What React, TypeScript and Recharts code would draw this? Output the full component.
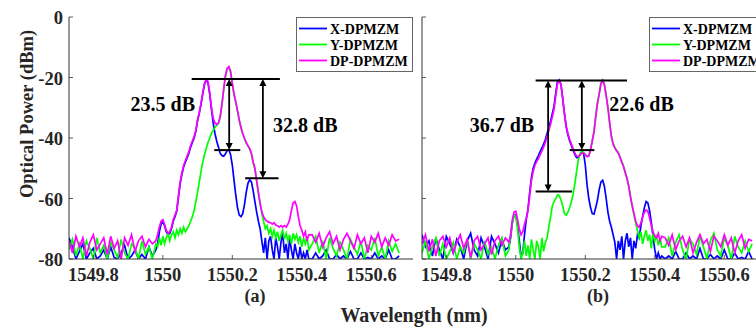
import React from 'react'
import { LineChart, Line, XAxis, YAxis, ReferenceLine, ReferenceDot } from 'recharts'

const FONT = "'Liberation Serif', 'Times New Roman', serif"
const AXIS = '#333333'
const BLUE = '#0000ff'
const GREEN = '#00ff00'
const MAGENTA = '#ff00ff'

// wavelength grid (nm): 0.01 steps in the noise floor, 0.005 steps around the carriers
const wavelength = [
    1549.73, 1549.74, 1549.75, 1549.76, 1549.77, 1549.78, 1549.79, 1549.8, 1549.81, 1549.82, 1549.83, 1549.84, 1549.85,
    1549.86, 1549.87, 1549.88, 1549.89, 1549.9, 1549.91, 1549.92, 1549.93, 1549.94, 1549.95, 1549.96, 1549.97, 1549.98,
    1549.985, 1549.99, 1549.995, 1550, 1550.005, 1550.01, 1550.015, 1550.02, 1550.025, 1550.03,
    1550.035, 1550.04, 1550.045, 1550.05, 1550.055, 1550.06, 1550.065, 1550.07, 1550.075, 1550.08,
    1550.085, 1550.09, 1550.095, 1550.1, 1550.105, 1550.11, 1550.115, 1550.12, 1550.125, 1550.13,
    1550.135, 1550.14, 1550.145, 1550.15, 1550.155, 1550.16, 1550.165, 1550.17, 1550.175, 1550.18,
    1550.185, 1550.19, 1550.195, 1550.2, 1550.205, 1550.21, 1550.215, 1550.22, 1550.225, 1550.23,
    1550.235, 1550.24, 1550.245, 1550.25, 1550.255, 1550.26, 1550.265, 1550.27, 1550.275, 1550.28,
    1550.285, 1550.29, 1550.295, 1550.3, 1550.305, 1550.31, 1550.315, 1550.32, 1550.325, 1550.33,
    1550.335, 1550.34, 1550.345, 1550.35, 1550.355, 1550.36, 1550.365, 1550.37, 1550.375, 1550.38,
    1550.385, 1550.39, 1550.395, 1550.4, 1550.405, 1550.41, 1550.415, 1550.42,
    1550.43, 1550.44, 1550.45, 1550.46, 1550.47, 1550.48, 1550.49, 1550.5, 1550.51, 1550.52, 1550.53, 1550.54, 1550.55,
    1550.56, 1550.57, 1550.58, 1550.59, 1550.6, 1550.61, 1550.62, 1550.63, 1550.64, 1550.65, 1550.66, 1550.67, 1550.68,
]

// (a) X-DPMZM
const xDpmzmA = [
    -73, -76, -80, -77.5, -75, -80, -78, -76.5, -80, -79, -77, -80, -76,
    -79.5, -80, -78, -75.5, -80, -79, -77, -80, -78.5, -80, -76, -79, -77,
    -75, -71, -68.5, -67.5, -69, -71, -72, -71.5, -70, -67.5,
    -66, -64.2, -59.5, -55, -52, -49.5, -48, -46.5, -45, -43,
    -41.5, -40, -37.8, -34.3, -31.8, -28.8, -25.3, -22.2, -20.8, -21.8,
    -25.5, -30.5, -35, -38.5, -41, -43, -45, -45.8, -46, -45.3,
    -44.2, -43.8, -45.5, -49, -54, -59, -63, -65.5, -66, -65,
    -62, -58, -55, -53.8, -54.5, -57.5, -61, -64.5, -67.5, -70,
    -74, -78, -73, -80, -74, -72.5, -77, -80, -73, -76,
    -80, -74.5, -71.5, -78, -75, -80, -73, -77, -80, -75,
    -78, -80, -76, -80, -78, -80, -77, -80,
    -80, -78, -80, -79, -77, -80, -80, -78.5, -80, -79, -80, -77.5, -80,
    -80, -78, -80, -79.5, -80, -78, -80, -79, -80, -77, -80, -80, -79,
]

// (a) Y-DPMZM
const yDpmzmA = [
    -77, -73.5, -79, -75, -80, -74, -76.5, -80, -73, -78, -75.5, -80, -74.5,
    -77, -79.5, -73.5, -78, -80, -75, -76.5, -80, -74, -78.5, -76, -80, -75,
    -76, -73, -75.5, -72.5, -75, -73, -71.5, -74, -72, -71,
    -73, -70.5, -72, -70, -71.5, -69.5, -71, -70, -69, -67.5,
    -66, -64, -61, -58, -54.5, -51, -48, -45.5, -43.5, -41.5,
    -40, -38.5, -37.5, -36.5, -35.8, -35.2, -33.2, -29.2, -24.2, -19.8,
    -17.2, -16.6, -18.2, -22.2, -25.7, -28.2, -31.2, -34.2, -36.7, -38.7,
    -40.2, -41.7, -42.7, -43.7, -45.2, -48.2, -50.2, -54.2, -58.3, -61.8,
    -65, -67.5, -70, -69, -71.5, -70, -72.5, -70.5, -73, -71,
    -74, -72, -70.5, -73.5, -71.5, -74, -72, -75, -71.5, -73.5,
    -72, -74.5, -72.5, -76, -73, -75, -72.5, -77,
    -75, -72.5, -78, -74, -80, -73, -76.5, -79, -74.5, -77, -80, -73.5, -76,
    -78.5, -74, -80, -75.5, -77, -73, -79, -76, -80, -74, -77.5, -75, -78,
]

// (a) DP-DPMZM
const dpDpmzmA = [
    -74, -78, -72.5, -76, -73, -79, -74.5, -72, -77, -75, -73, -78.5, -72.5,
    -76.5, -74, -80, -73, -75.5, -72, -77.5, -74, -72.5, -76, -73.5, -75, -74,
    -72, -69.5, -67.5, -67, -68.5, -70.5, -71.5, -71, -69.5, -67,
    -65.5, -64, -59, -54.5, -51.5, -49, -47.5, -46, -44.5, -42.5,
    -41, -39.5, -37.5, -34, -31.5, -28.5, -25, -22, -20.6, -21.3,
    -25, -30, -33.5, -35, -35.5, -35, -33, -29, -24, -19.5,
    -17, -16.4, -18, -22, -25.5, -28, -31, -34, -36.5, -38.5,
    -40, -41.5, -42.5, -43.5, -45, -48, -50, -54, -58, -61.5,
    -64.5, -66, -67, -67.5, -67.8, -68, -68.5, -68, -68.8, -69,
    -69.5, -69, -69.5, -69, -69.5, -68.5, -67, -64, -61.5, -61,
    -62.5, -66, -69, -70.5, -72.5, -71, -74, -72,
    -72, -74.5, -71.5, -76, -73, -71, -75, -72.5, -77, -73.5, -71.5, -74, -76.5,
    -72, -75, -73, -78, -72.5, -74.5, -71.5, -76, -73, -75.5, -72, -74, -73.5,
]

// (b) X-DPMZM
const xDpmzmB = [
    -72, -76, -74, -79, -73, -77, -80, -72.5, -75, -78, -73.5, -76, -80,
    -74, -71.5, -77, -79, -73, -76, -80, -72.5, -75, -78, -73.5, -77, -76,
    -73, -68, -65.5, -65.5, -69, -74, -79, -78, -72, -67,
    -63.5, -58, -53, -50, -48.3, -47, -45.8, -44.5, -43.3, -42,
    -40.5, -38.5, -36.5, -34.5, -32, -29.5, -25, -21.3, -20.8, -22.3,
    -27, -32, -36.3, -39, -41, -42.5, -44, -45.5, -46.5, -46.5,
    -45.5, -44.5, -45, -49, -55.5, -60, -63, -65, -65.2, -63,
    -60.5, -57, -54.5, -54, -56, -60, -64.5, -67.5, -69.5, -72,
    -74.5, -80, -74, -77, -72.5, -80, -74, -71.5, -76, -73,
    -80, -74, -76.5, -72, -73, -69, -66, -63, -61, -61.5,
    -64, -68, -72.5, -77, -80, -78, -80, -79,
    -80, -79, -80, -77.5, -80, -80, -78, -80, -79, -80, -76.5, -80, -80,
    -78.5, -80, -79, -80, -77, -80, -80, -78, -80, -79.5, -80, -77.5, -80,
]

// (b) Y-DPMZM
const yDpmzmB = [
    -78, -74, -80, -76, -73, -79, -75, -80, -77.5, -74.5, -80, -76, -78,
    -73.5, -80, -75, -77, -80, -74, -78.5, -76, -80, -75.5, -73, -79, -77,
    -72, -68, -65.5, -66, -70, -76, -80, -78, -74, -79,
    -75.5, -80, -73.5, -77, -80, -74, -76, -80, -73, -77.5,
    -74.5, -73, -69.5, -66, -62.5, -61, -60, -58.8, -59, -60.5,
    -62.5, -65, -65.5, -64.5, -63, -61, -58.5, -55, -51, -47,
    -45, -44.5, -44.8, -45.5, -46, -45.8, -43.8, -40.8, -37.8, -32.8,
    -28.3, -25.3, -21.8, -20.8, -22.3, -25.8, -29.8, -34.8, -39.3, -41.8,
    -43.1, -44.1, -44.8, -46.3, -47.8, -49.3, -51.3, -53.3, -55.8, -59.3,
    -62.5, -65.5, -68, -70.5, -73, -71, -75, -72.5, -70.5, -74,
    -72, -76.5, -71.5, -74, -72, -75.5, -73, -76,
    -76, -73, -79, -74.5, -72, -77, -80, -73.5, -75, -78.5, -72.5, -76, -80,
    -74, -71.5, -77, -79, -73, -75.5, -80, -72.5, -76, -78, -74, -77.5, -75,
]

// (b) DP-DPMZM
const dpDpmzmB = [
    -75, -72, -77.5, -73.5, -79, -74, -72.5, -76, -73, -78, -74.5, -72, -76.5,
    -73.5, -79.5, -74, -72.5, -77, -75, -73, -78.5, -74, -72.5, -75.5, -73, -74.5,
    -72, -67, -64.5, -64.2, -67, -70, -72, -71, -68.5, -66.5,
    -64, -59, -54, -51, -49, -47.8, -46.8, -45.5, -44.3, -43,
    -41.5, -39.5, -37.5, -35.5, -33, -30.5, -26, -22, -21, -22.5,
    -27, -32, -36, -38.5, -40.5, -42, -43.5, -45, -46, -46.2,
    -45.5, -45, -45, -45.5, -46.2, -46, -44, -41, -38, -33,
    -28.5, -25.5, -22, -21, -22.5, -26, -30, -35, -39.5, -42,
    -43.3, -44.3, -45, -46.5, -48, -49.5, -51.5, -53.5, -56, -59.5,
    -62.5, -65, -67.5, -69, -69.5, -68, -66, -64.5, -63.8, -64.2,
    -66.5, -69, -71, -72.5, -73, -71.5, -74, -72.5,
    -73, -75.5, -72, -77, -74, -72.5, -76, -73, -78, -74.5, -72, -75, -73.5,
    -77.5, -72.5, -74, -76, -72, -75.5, -73, -78, -74, -72, -76.5, -73.5, -74,
]

const xTicks = [1549.8, 1550, 1550.2, 1550.4, 1550.6]
const yTicks = [-80, -60, -40, -20, 0]
const seriesNames = ['X-DPMZM', 'Y-DPMZM', 'DP-DPMZM']

// annotation bars / arrows / labels (data units)
const barsA = [
    { x1: 1550.083, x2: 1550.337, y: -20.5 },
    { x1: 1550.148, x2: 1550.223, y: -44 },
    { x1: 1550.237, x2: 1550.333, y: -53.3 },
]
const arrowsA = [
    { x: 1550.191, y1: -20.5, y2: -44 },
    { x: 1550.288, y1: -20.5, y2: -53.3 },
]
const notesA = [
    { x: 1550.0, y: -28.8, text: '23.5 dB' },
    { x: 1550.41, y: -35.7, text: '32.8 dB' },
]
const barsB = [
    { x1: 1550.057, x2: 1550.32, y: -21 },
    { x1: 1550.057, x2: 1550.162, y: -57.7 },
    { x1: 1550.155, x2: 1550.226, y: -44 },
]
const arrowsB = [
    { x: 1550.093, y1: -21, y2: -57.7 },
    { x: 1550.19, y1: -21, y2: -44 },
]
const notesB = [
    { x: 1549.96, y: -35.7, text: '36.7 dB' },
    { x: 1550.362, y: -28.8, text: '22.6 dB' },
]

const buildRows = (xs: number[], ys: number[], dps: number[]) =>
    wavelength.map((w, i) => ({ w, xd: xs[i], yd: ys[i], dp: dps[i] }))

const rowsA = buildRows(xDpmzmA, yDpmzmA, dpDpmzmA)
const rowsB = buildRows(xDpmzmB, yDpmzmB, dpDpmzmB)

const BottomTick = ({ x, y, payload }: any) => (
    <g>
        <line x1={x} y1={y} x2={x} y2={y - 4} stroke={AXIS} strokeWidth={0.8} />
        <text x={x} y={y + 22} textAnchor="middle" fontFamily={FONT} fontWeight="bold" fontSize={18.5} fill="#262626">
            {payload.value}
        </text>
    </g>
)
const TopTick = ({ x, y }: any) => <line x1={x} y1={y} x2={x} y2={y + 4} stroke={AXIS} strokeWidth={0.8} />
const RightTick = ({ x, y }: any) => <line x1={x} y1={y} x2={x - 4} y2={y} stroke={AXIS} strokeWidth={0.8} />
const LeftTick = (showLabel: boolean) => ({ x, y, payload }: any) => (
    <g>
        <line x1={x} y1={y} x2={x + 4} y2={y} stroke={AXIS} strokeWidth={0.8} />
        {showLabel && (
            <text x={x - 6} y={y + 7} textAnchor="end" fontFamily={FONT} fontWeight="bold" fontSize={18.5} fill="#262626">
                {payload.value}
            </text>
        )}
    </g>
)

const ArrowShape = (props: any) => {
    const { x1, y1, x2, y2 } = props
    if (x1 == null || y1 == null) return null
    const top = Math.min(y1, y2)
    const bot = Math.max(y1, y2)
    const h = 7
    const w = 3.5
    return (
        <g>
            <line x1={x1} y1={top + h - 1} x2={x2} y2={bot - h + 1} stroke="#000" strokeWidth={1.8} />
            <path d={`M${x1},${top} L${x1 - w},${top + h} L${x1 + w},${top + h} Z`} fill="#000" />
            <path d={`M${x1},${bot} L${x1 - w},${bot - h} L${x1 + w},${bot - h} Z`} fill="#000" />
        </g>
    )
}

interface PanelProps {
    rows: any[]
    bars: { x1: number; x2: number; y: number }[]
    arrows: { x: number; y1: number; y2: number }[]
    notes: { x: number; y: number; text: string }[]
    showYLabels: boolean
}

const Panel = ({ rows, bars, arrows, notes, showYLabels }: PanelProps) => (
    <LineChart width={430} height={329} data={rows} margin={{ top: 17, right: 17, bottom: 40, left: 19 }}>
        <XAxis
            dataKey="w"
            type="number"
            domain={[1549.73, 1550.72]}
            allowDataOverflow
            ticks={xTicks}
            interval={0}
            tickLine={false}
            tickSize={0}
            tickMargin={0}
            height={30}
            stroke={AXIS}
            tick={(p: any) => <BottomTick {...p} />}
        />
        <XAxis
            xAxisId="top"
            orientation="top"
            dataKey="w"
            type="number"
            domain={[1549.73, 1550.72]}
            allowDataOverflow
            ticks={xTicks}
            interval={0}
            tickLine={false}
            tickSize={0}
            tickMargin={0}
            height={0}
            stroke={AXIS}
            tick={(p: any) => <TopTick {...p} />}
        />
        <YAxis
            type="number"
            domain={[-80, 0]}
            allowDataOverflow
            ticks={yTicks}
            interval={0}
            tickLine={false}
            tickSize={0}
            tickMargin={0}
            width={50}
            stroke={AXIS}
            tick={LeftTick(showYLabels)}
        />
        <YAxis
            yAxisId="right"
            orientation="right"
            type="number"
            domain={[-80, 0]}
            allowDataOverflow
            ticks={yTicks}
            interval={0}
            tickLine={false}
            tickSize={0}
            tickMargin={0}
            width={0}
            stroke={AXIS}
            tick={(p: any) => <RightTick {...p} />}
        />
        <Line dataKey="xd" stroke={BLUE} strokeWidth={1.7} dot={false} isAnimationActive={false} />
        <Line dataKey="yd" stroke={GREEN} strokeWidth={1.7} dot={false} isAnimationActive={false} />
        <Line dataKey="dp" stroke={MAGENTA} strokeWidth={1.7} dot={false} isAnimationActive={false} />
        {bars.map((b, i) => (
            <ReferenceLine
                key={`bar-${i}`}
                segment={[{ x: b.x1, y: b.y }, { x: b.x2, y: b.y }]}
                stroke="#000"
                strokeWidth={2}
                ifOverflow="visible"
            />
        ))}
        {arrows.map((a, i) => (
            <ReferenceLine
                key={`arr-${i}`}
                segment={[{ x: a.x, y: a.y1 }, { x: a.x, y: a.y2 }]}
                ifOverflow="visible"
                shape={ArrowShape}
            />
        ))}
        {notes.map((n, i) => (
            <ReferenceDot
                key={`note-${i}`}
                x={n.x}
                y={n.y}
                r={0}
                ifOverflow="visible"
                shape={(p: any) => (
                    <text
                        x={p.cx}
                        y={p.cy}
                        textAnchor="middle"
                        dominantBaseline="central"
                        fontFamily={FONT}
                        fontWeight="bold"
                        fontSize={20}
                        fill="#000"
                    >
                        {n.text}
                    </text>
                )}
            />
        ))}
    </LineChart>
)

const LegendBox = ({ left }: { left: number }) => {
    const colors = [BLUE, GREEN, MAGENTA]
    return (
        <g>
            <rect x={left + 0.5} y={17.5} width={116} height={54} fill="#fff" stroke="#666" strokeWidth={1} />
            {seriesNames.map((name, i) => {
                const cy = 28.5 + i * 16
                return (
                    <g key={name}>
                        <line x1={left + 3} y1={cy} x2={left + 31} y2={cy} stroke={colors[i]} strokeWidth={1.8} />
                        <text x={left + 34} y={cy + 5} fontFamily={FONT} fontWeight="bold" fontSize={14} fill="#000">
                            {name}
                        </text>
                    </g>
                )
            })}
        </g>
    )
}

export default function App() {
    return (
        <div style={{ position: 'fixed', left: 0, top: 0, width: 756, height: 329, overflow: 'hidden', background: '#fff' }}>
            <div style={{ position: 'absolute', left: 0, top: 0 }}>
                <Panel rows={rowsA} bars={barsA} arrows={arrowsA} notes={notesA} showYLabels />
            </div>
            <div style={{ position: 'absolute', left: 353, top: 0 }}>
                <Panel rows={rowsB} bars={barsB} arrows={arrowsB} notes={notesB} showYLabels={false} />
            </div>
            <svg width={756} height={329} style={{ position: 'absolute', left: 0, top: 0, pointerEvents: 'none' }}>
                <LegendBox left={296} />
                <LegendBox left={649} />
                <text
                    x={27}
                    y={114}
                    transform="rotate(-90, 27, 114)"
                    textAnchor="middle"
                    dominantBaseline="central"
                    fontFamily={FONT}
                    fontWeight="bold"
                    fontSize={18.5}
                    fill="#262626"
                >
                    Optical Power (dBm)
                </text>
                <text x={255} y={302} textAnchor="middle" fontFamily={FONT} fontWeight="bold" fontSize={18} fill="#262626">
                    (a)
                </text>
                <text x={598} y={302} textAnchor="middle" fontFamily={FONT} fontWeight="bold" fontSize={18} fill="#262626">
                    (b)
                </text>
                <text x={414} y={322} textAnchor="middle" fontFamily={FONT} fontWeight="bold" fontSize={20} fill="#262626">
                    Wavelength (nm)
                </text>
            </svg>
        </div>
    )
}
